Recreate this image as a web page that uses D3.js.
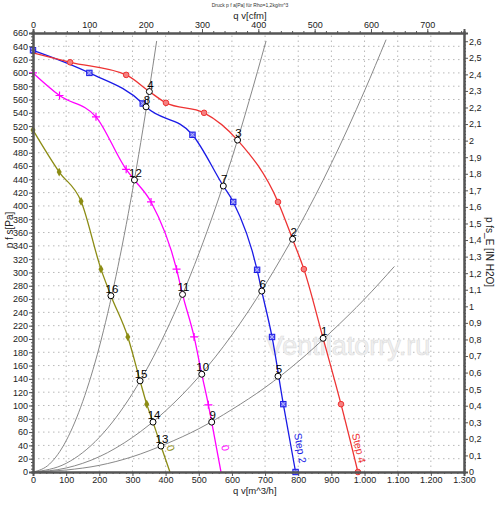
<!DOCTYPE html>
<html>
<head>
<meta charset="utf-8">
<script src="https://cdn.jsdelivr.net/npm/d3@7/dist/d3.min.js"></script>
<style>
  body { margin: 0; background: #fff; }
  svg text { font-family: "Liberation Sans", Arial, sans-serif; }
</style>
</head>
<body>
<div id="chart"></div>
<script>
// Achsen-Ticks
var flowTicks = [0, 100, 200, 300, 400, 500, 600, 700, 800, 900, 1000, 1100, 1200, 1300];
var cfmTicks = [0, 100, 200, 300, 400, 500, 600, 700];
var pressTicks = [0, 20, 40, 60, 80, 100, 120, 140, 160, 180, 200, 220, 240, 260, 280, 300, 320,
  340, 360, 380, 400, 420, 440, 460, 480, 500, 520, 540, 560, 580, 600, 620, 640, 660];
var inchTicks = [0, 0.1, 0.2, 0.3, 0.4, 0.5, 0.6, 0.7, 0.8, 0.9, 1, 1.1, 1.2, 1.3, 1.4, 1.5, 1.6,
  1.7, 1.8, 1.9, 2, 2.1, 2.2, 2.3, 2.4, 2.5, 2.6];

// Kennlinien (qv m^3/h, p Pa)
var step4Q = [0, 112, 281, 351, 401, 516, 617, 739, 783, 817, 875, 929, 980];
var step4P = [630, 616, 597, 572, 555, 540, 499, 406, 350, 305, 201, 102, 0];
var step4MarkQ = [112, 281, 401, 516, 739, 817, 929, 980];
var step4MarkP = [616, 597, 555, 540, 406, 305, 102, 0];

var step2Q = [0, 170, 331, 341, 481, 574, 604, 676, 690, 721, 755, 792];
var step2P = [634, 600, 554, 549, 507, 430, 406, 304, 272, 203, 102, 0];
var step2MarkQ = [0, 170, 331, 481, 604, 676, 721, 755, 792];
var step2MarkP = [634, 600, 554, 507, 406, 304, 203, 102, 0];

var magQ = [0, 80, 190, 281, 306, 356, 433, 451, 486, 509, 529, 539, 567];
var magP = [600, 566, 534, 455, 439, 406, 305, 267, 203, 147, 101, 75, 0];
var magMarkQ = [0, 80, 190, 281, 356, 433, 486, 529];
var magMarkP = [600, 566, 534, 455, 406, 305, 203, 101];

var oliveQ = [0, 79, 145, 205, 235, 286, 323, 343, 362, 386, 413];
var oliveP = [514, 451, 407, 305, 265, 203, 137, 102, 75, 39, 0];
var oliveMarkQ = [0, 79, 145, 205, 286, 343];
var oliveMarkP = [514, 451, 407, 305, 203, 102];

// Anlagenkennlinien
var sys1Q = [0, 50, 100, 150, 200, 250, 300, 350, 373];
var sys1P = [0, 12, 47, 106, 188, 294, 423, 573, 648];
var sys2Q = [0, 100, 200, 300, 400, 500, 600, 703];
var sys2P = [0, 13, 52, 118, 210, 328, 472, 648];
var sys3Q = [0, 100, 200, 300, 400, 500, 600, 700, 800, 900, 1000, 1065];
var sys3P = [0, 6, 23, 52, 92, 143, 206, 281, 367, 464, 573, 650];
var sys4Q = [0, 100, 200, 300, 400, 500, 600, 700, 800, 900, 1000, 1090];
var sys4P = [0, 3, 10, 23, 42, 65, 94, 127, 166, 211, 260, 309];

// Betriebspunkte
var opNum = [1, 2, 3, 4, 5, 6, 7, 8, 9, 10, 11, 12, 13, 14, 15, 16];
var opQ = [875, 783, 617, 351, 739, 690, 574, 341, 539, 509, 451, 306, 386, 362, 323, 235];
var opP = [201, 350, 499, 572, 144, 272, 430, 549, 75, 147, 267, 439, 39, 75, 137, 265];

var width = 500;
var height = 505;

var svg = d3.select("#chart")
  .append("svg")
  .attr("width", width)
  .attr("height", height);

var x = d3.scaleLinear().domain([0, 1300]).range([33, 464]);
var y = d3.scaleLinear().domain([0, 660]).range([472, 33]);
var xCfm = d3.scaleLinear().domain([0, 1300 / 1.699]).range([33, 464]);
var yIn = d3.scaleLinear().domain([0, 660 / 249.09]).range([472, 33]);

function zip(qs, ps) {
  return qs.map(function(q, i) { return [q, ps[i]]; });
}

// Gitter
svg.append("g").selectAll("line")
  .data(pressTicks.slice(1, -1))
  .enter().append("line")
  .attr("x1", x(0)).attr("x2", x(1300))
  .attr("y1", function(d) { return y(d); })
  .attr("y2", function(d) { return y(d); })
  .attr("stroke", "#b8b8b8")
  .attr("stroke-dasharray", "1.5,3.5");

svg.append("g").selectAll("line")
  .data(flowTicks.slice(1, -1))
  .enter().append("line")
  .attr("y1", y(0)).attr("y2", y(660))
  .attr("x1", function(d) { return x(d); })
  .attr("x2", function(d) { return x(d); })
  .attr("stroke", "#b8b8b8")
  .attr("stroke-dasharray", "1.5,3.5");

// Wasserzeichen
svg.append("text")
  .attr("x", x(950)).attr("y", y(176))
  .attr("text-anchor", "middle")
  .attr("font-size", 27)
  .attr("fill", "#f0f0f0")
  .attr("stroke", "#dddddd")
  .attr("stroke-width", 0.6)
  .text("Ventilatorry.ru");

var line = d3.line()
  .x(function(d) { return x(d[0]); })
  .y(function(d) { return y(d[1]); })
  .curve(d3.curveMonotoneX);

// Anlagenkennlinien zeichnen
[[sys1Q, sys1P], [sys2Q, sys2P], [sys3Q, sys3P], [sys4Q, sys4P]].forEach(function(s) {
  svg.append("path")
    .attr("d", line(zip(s[0], s[1])))
    .attr("fill", "none")
    .attr("stroke", "#7a7a7a")
    .attr("stroke-width", 0.9);
});

// Ventilatorkennlinien
var fans = [
  { q: oliveQ, p: oliveP, mq: oliveMarkQ, mp: oliveMarkP, color: "#8c8c14", mark: "diamond", label: "0", dx: 4 },
  { q: magQ, p: magP, mq: magMarkQ, mp: magMarkP, color: "#ff00ff", mark: "plus", label: "0", dx: 4 },
  { q: step2Q, p: step2P, mq: step2MarkQ, mp: step2MarkP, color: "#1a1ae6", mark: "square", label: "Step 2", dx: 4 },
  { q: step4Q, p: step4P, mq: step4MarkQ, mp: step4MarkP, color: "#ee3333", mark: "circle", label: "Step 4", dx: 2 }
];

fans.forEach(function(f) {
  svg.append("path")
    .attr("d", line(zip(f.q, f.p)))
    .attr("fill", "none")
    .attr("stroke", f.color)
    .attr("stroke-width", 1.3);

  var g = svg.append("g");
  zip(f.mq, f.mp).forEach(function(d) {
    var px = x(d[0]), py = y(d[1]);
    if (f.mark === "circle") {
      g.append("circle").attr("cx", px).attr("cy", py).attr("r", 2.8)
        .attr("fill", "#f58080").attr("stroke", f.color).attr("stroke-width", 1);
    } else if (f.mark === "square") {
      g.append("rect").attr("x", px - 2.7).attr("y", py - 2.7).attr("width", 5.4).attr("height", 5.4)
        .attr("fill", "#6a6af0").attr("stroke", f.color).attr("stroke-width", 1);
      g.append("path").attr("d", "M" + (px - 2) + "," + (py - 2) + "L" + (px + 2) + "," + (py + 2) +
        "M" + (px + 2) + "," + (py - 2) + "L" + (px - 2) + "," + (py + 2))
        .attr("stroke", "#c8c8ff").attr("stroke-width", 0.8);
    } else if (f.mark === "plus") {
      g.append("path").attr("d", "M" + (px - 4) + "," + py + "L" + (px + 4) + "," + py +
        "M" + px + "," + (py - 4) + "L" + px + "," + (py + 4))
        .attr("stroke", f.color).attr("stroke-width", 1.2);
    } else {
      g.append("path")
        .attr("transform", "translate(" + px + "," + py + ")")
        .attr("d", d3.symbol().type(d3.symbolDiamond).size(22)())
        .attr("fill", f.color);
    }
  });

  // Beschriftung am Kurvenende, entlang der Kurve gedreht
  var n = f.q.length;
  var x1 = x(f.q[n - 2]), y1 = y(f.p[n - 2]);
  var x2 = x(f.q[n - 1]), y2 = y(f.p[n - 1]);
  var ang = Math.atan2(y2 - y1, x2 - x1) * 180 / Math.PI;
  var lx = x2 - (y2 - y(36)) * (x2 - x1) / (y2 - y1) + f.dx + 5;
  var ly = y(36);
  svg.append("text")
    .attr("transform", "translate(" + lx + "," + ly + ") rotate(" + ang + ")")
    .attr("text-anchor", "middle")
    .attr("dy", "0.35em")
    .attr("font-size", 10.5)
    .attr("fill", f.color)
    .text(f.label);
});

// Betriebspunkte
var ops = svg.append("g").selectAll("g")
  .data(opNum.map(function(n, i) { return { n: n, q: opQ[i], p: opP[i] }; }))
  .enter().append("g")
  .attr("transform", function(d) { return "translate(" + x(d.q) + "," + y(d.p) + ")"; });

ops.append("circle")
  .attr("r", 3)
  .attr("fill", "#fff")
  .attr("stroke", "#000")
  .attr("stroke-width", 1);

ops.append("text")
  .attr("x", 1)
  .attr("y", -3)
  .attr("text-anchor", "middle")
  .attr("font-size", 11.5)
  .attr("fill", "#000")
  .text(function(d) { return d.n; });

// Achsen
function styleAxis(g) {
  g.selectAll(".domain").attr("stroke", "#555").attr("stroke-width", 2);
  g.selectAll(".tick line").attr("stroke", "#555");
  g.selectAll("text").attr("font-size", 9).attr("fill", "#222")
    .attr("font-family", "'Liberation Sans', Arial, sans-serif");
}

function fmtFlow(d) {
  return d3.format(",")(d).replace(/,/g, ".");
}
function fmtInch(d) {
  return String(Math.round(d * 10) / 10).replace(".", ",");
}

// Nebenstriche
svg.append("g").attr("transform", "translate(" + x(0) + ",0)")
  .call(d3.axisLeft(y).tickValues(d3.range(0, 661, 5)).tickSize(2).tickFormat(""))
  .call(styleAxis);
svg.append("g").attr("transform", "translate(0," + y(0) + ")")
  .call(d3.axisBottom(x).tickValues(d3.range(0, 1301, 20)).tickSize(2).tickFormat(""))
  .call(styleAxis);
svg.append("g").attr("transform", "translate(0," + y(660) + ")")
  .call(d3.axisTop(xCfm).tickValues(d3.range(0, 761, 20)).tickSize(2).tickFormat(""))
  .call(styleAxis);
svg.append("g").attr("transform", "translate(" + x(1300) + ",0)")
  .call(d3.axisRight(yIn).tickValues(d3.range(0, 2.61, 0.02)).tickSize(2).tickFormat(""))
  .call(styleAxis);

svg.append("g").attr("transform", "translate(" + x(0) + ",0)")
  .call(d3.axisLeft(y).tickValues(pressTicks).tickSize(4).tickPadding(1))
  .call(styleAxis);
svg.append("g").attr("transform", "translate(0," + y(0) + ")")
  .call(d3.axisBottom(x).tickValues(flowTicks).tickSize(4).tickPadding(1).tickFormat(fmtFlow))
  .call(styleAxis);
svg.append("g").attr("transform", "translate(0," + y(660) + ")")
  .call(d3.axisTop(xCfm).tickValues(cfmTicks).tickSize(4).tickPadding(1))
  .call(styleAxis);
svg.append("g").attr("transform", "translate(" + x(1300) + ",0)")
  .call(d3.axisRight(yIn).tickValues(inchTicks).tickSize(4).tickPadding(1).tickFormat(fmtInch))
  .call(styleAxis);

// Achsentitel
svg.append("text")
  .attr("x", 250).attr("y", 6.5)
  .attr("text-anchor", "middle")
  .attr("font-size", 5)
  .attr("fill", "#333")
  .text("Druck p f a[Pa] für Rho=1,2kg/m^3");

svg.append("text")
  .attr("x", 250).attr("y", 18.5)
  .attr("text-anchor", "middle")
  .attr("font-size", 9.5)
  .attr("fill", "#222")
  .text("q v[cfm]");

svg.append("text")
  .attr("x", 233).attr("y", 494)
  .attr("font-size", 9.5)
  .attr("fill", "#222")
  .text("q v[m^3/h]");

svg.append("text")
  .attr("transform", "translate(13,230) rotate(-90)")
  .attr("text-anchor", "middle")
  .attr("font-size", 10)
  .attr("fill", "#222")
  .text("p f s[Pa]");

svg.append("text")
  .attr("transform", "translate(486,252) rotate(90)")
  .attr("text-anchor", "middle")
  .attr("font-size", 10)
  .attr("fill", "#222")
  .text("p fs_E [IN H2O]");
</script>
</body>
</html>
